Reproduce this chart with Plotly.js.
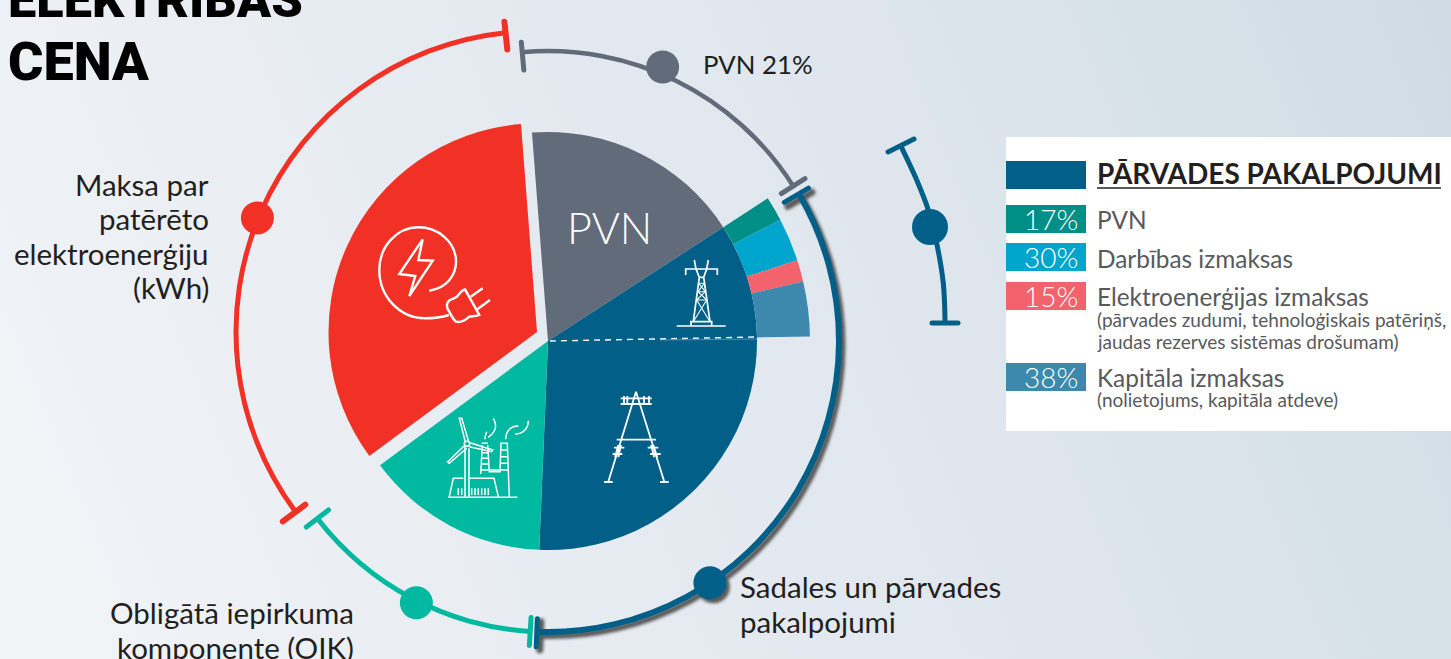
<!DOCTYPE html>
<html><head><meta charset="utf-8">
<script src="https://cdn.plot.ly/plotly-3.0.1.min.js"></script>
<style>
html,body{margin:0;padding:0;width:1451px;height:659px;overflow:hidden;
background:linear-gradient(68deg,#f2f5f8 0%,#e6ebf1 38%,#dde5ec 68%,#cfdce4 100%);}
#chart{width:1451px;height:659px;}
.js-line{stroke-linecap:round;}
g.polar{filter:blur(1.6px);}
</style></head><body><div id="chart"></div>
<script>
// ---- data ----
const sliceNames=['PVN','Sadales un pārvades pakalpojumi','OIK','Maksa par patērēto elektroenerģiju'];
const sliceShares=[17.06,34.83,14.19,33.92];
const sliceColors=['#626b7a','#015f88','#00b9a0','#f13125'];
const pieStart=-4.4;
const detailNames=['PVN','Darbības izmaksas','Elektroenerģijas izmaksas','Kapitāla izmaksas'];
const detailPct=[17,30,15,38];
const detailColors=['#008f86','#00a5cd','#f2636d','#3d89ae'];
const detailSpanDeg=32;
// brace arcs round the pie: start, end, radius, dot angle, dot radius
const arcStart=[-5.1,59.6,183.5,233.3];
const arcEnd=[57.7,182.2,232.4,354];
const arcRadius=[290,291,291,301];
const dotTheta=[22.7,146.2,206.7,292.2];
const dotRadius=[297,291,293,302];
const arcColors=['#626b7a','#015f88','#00b9a0','#f13125'];
// side bracket of the transmission share
const sideX=[902,916.7,928.3,936.7,943.3,945];
const sideY=[148.3,180,210,243.3,283.3,320];

// ---- angles ----
const W=1451,H=659;
let acc=pieStart;
const sliceFrom=sliceShares.map(s=>{const a=acc;acc+=s*3.6;return a;});
const sliceWidth=sliceShares.map(s=>s*3.6);
const sliceMid=sliceFrom.map((a,i)=>a+sliceWidth[i]/2);
let accD=sliceFrom[1];
const detailWidth=detailPct.map(p=>p*detailSpanDeg/100);
const detailMid=detailWidth.map(w=>{const m=accD+w/2;accD+=w;return m;});

function polarLayout(cx,cy,R){
  return {domain:{x:[(cx-R)/W,(cx+R)/W],y:[(H-cy-R)/H,(H-cy+R)/H]},
    bgcolor:'rgba(0,0,0,0)',barmode:'overlay',
    angularaxis:{rotation:90,direction:'clockwise',visible:false,showgrid:false},
    radialaxis:{visible:false,range:[0,R],showgrid:false}};
}
const traces=[];
function wedge(sp,theta,width,base,r,color){
  traces.push({type:'barpolar',subplot:sp,theta:theta,width:width,base:base,r:r,
    marker:{color:color,line:{width:0}},hoverinfo:'skip',showlegend:false});
}
function cap(sp,t,r,color,w){
  traces.push({type:'scatterpolar',subplot:sp,mode:'lines',theta:[t,t],r:[r-14,r+14],
    line:{color:color,width:w},hoverinfo:'skip',showlegend:false,cliponaxis:false});
}
function dot(sp,t,r,color,s){
  traces.push({type:'scatterpolar',subplot:sp,mode:'markers',theta:[t],r:[r],
    marker:{color:color,size:s,line:{width:0}},hoverinfo:'skip',showlegend:false,cliponaxis:false});
}
function arc(sp,i,color,th){
  const m=(arcStart[i]+arcEnd[i])/2,w=arcEnd[i]-arcStart[i];
  wedge(sp,[m],[w],[arcRadius[i]-th/2],[th],color);
}
// cartesian pixel canvas for the side bracket and annotations
traces.push({type:'scatter',x:sideX,y:sideY,mode:'lines',line:{color:'#015f88',width:5,shape:'spline'},hoverinfo:'skip',showlegend:false,cliponaxis:false});
traces.push({type:'scatter',x:[930],y:[227],mode:'markers',marker:{color:'#015f88',size:36},hoverinfo:'skip',showlegend:false});
traces.push({type:'scatter',x:[888,914],y:[152,139],mode:'lines',line:{color:'#015f88',width:5},hoverinfo:'skip',showlegend:false});
traces.push({type:'scatter',x:[932,958],y:[323,323],mode:'lines',line:{color:'#015f88',width:5},hoverinfo:'skip',showlegend:false});

// shadow of blue arc (subplot "polar" is blurred)
const SH='#5a5a5a';
arc('polar',1,SH,6); cap('polar',arcStart[1],288,SH,7); cap('polar',arcEnd[1],291,SH,7); dot('polar',dotTheta[1],dotRadius[1],SH,33);
// detached red slice
wedge('polar2',[sliceMid[3]],[sliceWidth[3]],[0],[208.5],sliceColors[3]);
arc('polar2',3,arcColors[3],5);
cap('polar2',arcStart[3],303,arcColors[3],6);
cap('polar2',arcEnd[3],298,arcColors[3],6);
dot('polar2',dotTheta[3],dotRadius[3],arcColors[3],33);
// main pie
[0,1,2].forEach(i=>wedge('polar3',[sliceMid[i]],[sliceWidth[i]],[0],[209],sliceColors[i]));
detailPct.forEach((p,i)=>wedge('polar3',[detailMid[i]],[detailWidth[i]],[209],[53],detailColors[i]));
// arcs
arc('polar3',0,arcColors[0],4.5);
cap('polar3',arcStart[0],286,arcColors[0],5);
cap('polar3',arcEnd[0],290,arcColors[0],5);
dot('polar3',dotTheta[0],dotRadius[0],arcColors[0],33);
arc('polar3',2,arcColors[2],5);
cap('polar3',arcStart[2],291,arcColors[2],5);
cap('polar3',arcEnd[2],291,arcColors[2],5);
dot('polar3',dotTheta[2],dotRadius[2],arcColors[2],33);
arc('polar3',1,arcColors[1],6);
cap('polar3',arcStart[1],288,arcColors[1],5);
cap('polar3',arcEnd[1],292,arcColors[1],5);
dot('polar3',dotTheta[1],dotRadius[1],arcColors[1],33);

// ---- icons as white line shapes; drawn in zoom coordinates ----
function P(ox,oy,str){
  return str.replace(/(-?[\d.]+),(-?[\d.]+)/g,(m,a,b)=>(+(a)/3+ox).toFixed(1)+','+(+(b)/3+oy).toFixed(1));
}
function ico(ox,oy,str,w,op){return {type:'path',xref:'x',yref:'y',layer:'above',path:P(ox,oy,str),line:{color:'#ffffff',width:w},opacity:op||1};}
const shapes=[
 // plug
 ico(350,200,'M238,272 C290,265 320,225 318,180 C315,125 265,82 205,82 C140,82 88,140 88,210 C88,290 150,355 225,355 C250,355 275,352 297,345',2.4),
 ico(350,200,'M218,118 L148,222 L196,228 L178,288 L248,182 L205,180 Z',2.4),
 ico(350,200,'M345,268 L388,345 C375,350 365,348 358,350 C345,362 330,368 318,365 C308,358 304,345 298,335 C288,322 288,308 300,300 C312,295 322,292 325,285 C332,275 338,270 345,268 Z',2.4),
 ico(350,200,'M362,290 L398,265 M382,328 L420,300',2.4),
 // power plant
 ico(420,380,'M135,195 L135,350 M147,205 L147,350 M136,185 L118,115 L125,115 L146,185 M132,198 L83,246 L88,250 L140,205 M150,188 L218,210 L215,215 L148,200',1.5),
 ico(420,380,'M133,191 C133,181 149,181 149,191 C149,201 133,201 133,191 Z',1.5),
 ico(420,380,'M88,350 L100,295 L130,295 M150,295 L222,295 L235,350 M85,352 L292,352',1.5),
 ico(420,380,'M115,325 L115,345 M125,325 L125,345 M155,325 L155,345 M165,325 L165,345 M175,325 L175,345 M185,325 L185,345 M195,325 L195,345 M205,325 L205,345',1.5),
 ico(420,380,'M185,190 L204,190 M187,195 L182,282 M203,195 L208,275 L240,275 L243,190 L262,190 L268,350 M187,218 L206,218 M185,235 L206,235 M184,252 L207,252 M182,270 L265,270 M242,210 L263,210 M241,230 L264,230 M240,250 L265,250',1.5),
 ico(420,380,'M195,178 C195,168 197,162 200,155 M205,172 C228,155 232,135 220,115 M257,178 C258,150 275,138 295,138 M285,162 C310,162 325,145 325,122',1.5),
 // big pylon
 ico(420,380,'M648,35 L565,305 M648,35 L733,305 M552,306 L578,306 M720,306 L746,306 M590,179 L708,179 M602,55 L695,55 M602,72 L695,72 M612,48 L612,75 M622,48 L622,75 M672,48 L672,75 M687,48 L687,75 M582,203 L613,203 M578,222 L607,222 M683,203 L715,203 M690,222 L722,222 M595,195 L585,232 M603,195 L595,232 M693,195 L703,232 M700,195 L712,232',1.8),
 // small pylon
 ico(660,250,'M50,228 L197,228 M93,228 L93,215 L155,215 L155,228 M77,75 L77,57 L172,57 L172,75 M103,30 L108,57 L118,82 L131,82 L140,57 L145,30 M100,215 L118,82 M150,215 L131,82',1.7),
 ico(660,250,'M116,100 L133,100 M114,125 L136,125 M110,150 L140,150 M116,100 L136,125 M133,100 L114,125 M114,125 L140,150 M136,125 L110,150 M110,150 L150,215 M140,150 L100,215',1.1),
 // dashed split of the dark slice
 {type:'line',xref:'x',yref:'y',layer:'above',x0:550,y0:341,x1:757,y1:337,line:{color:'#ffffff',width:1.4,dash:'6px,5px'}},
 {type:'line',xref:'x',yref:'y',layer:'above',x0:660,y0:340,x1:757,y1:339,line:{color:'rgba(255,255,255,0.3)',width:1}},
 // legend card
 {type:'rect',xref:'x',yref:'y',layer:'above',x0:1006,y0:137,x1:1451,y1:431,fillcolor:'#ffffff',line:{width:0}},
 {type:'rect',xref:'x',yref:'y',layer:'above',x0:1006,y0:161,x1:1086,y1:189,fillcolor:'#015f88',line:{width:0}},
 {type:'line',xref:'x',yref:'y',layer:'above',x0:1097,y0:188,x1:1441,y1:188,line:{color:'#231f20',width:1.5}}
];
const swatchTop=[205,243,282,363];
detailPct.forEach((p,i)=>shapes.push({type:'rect',xref:'x',yref:'y',layer:'above',x0:1006,y0:swatchTop[i],x1:1086,y1:swatchTop[i]+28,fillcolor:detailColors[i],line:{width:0}}));

// ---- text ----
const F='Lato, sans-serif';
function T(x,y,text,size,color,anchor,extra){
  const dx=anchor==='right'?2:(anchor==='center'?0:-2);
  return Object.assign({xref:'x',yref:'y',x:x+dx,y:y-1.5,text:text,showarrow:false,xanchor:anchor||'left',yanchor:'middle',align:anchor||'left',
    font:{family:F,size:size,color:color||'#231f20'}},extra||{});
}
const titleFont1={family:'Roboto, sans-serif',size:50.5,color:'#000',weight:900};
const titleFont2={family:'Roboto, sans-serif',size:54,color:'#000',weight:900};
const BS=29.5;
const annotations=[
 T(8,2.5,'ELEKTRĪBAS',50.5,'#000000','left',{font:titleFont1,yshift:2}),
 T(8,63,'CENA',54,'#000000','left',{font:titleFont2}),
 T(703,65,'PVN 21%',25.8),
 T(740,588,'Sadales un pārvades',BS),
 T(740,623,'pakalpojumi',BS),
 T(354,614,'Obligātā iepirkuma',BS,null,'right'),
 T(354,649,'komponente (OIK)',BS,null,'right'),
 T(209,186,'Maksa par',BS,null,'right'),
 T(209,220,'patērēto',BS,null,'right'),
 T(209,255,'elektroenerģiju',BS,null,'right'),
 T(209,289,'(kWh)',BS,null,'right'),
 T(609,229,'PVN',43,'#ffffff','center',{font:{family:F,size:43,color:'#ffffff',weight:300}}),
 T(1097,174,'PĀRVADES PAKALPOJUMI',28,'#231f20','left',{font:{family:F,size:28,color:'#231f20',weight:700}}),
 T(1097,220.5,detailNames[0],24.4,'#58595b'),
 T(1097,259.5,detailNames[1],24.4,'#58595b'),
 T(1097,297.5,detailNames[2],24.4,'#58595b'),
 T(1097,321,'(pārvades zudumi, tehnoloģiskais patēriņš,',19,'#58595b'),
 T(1097,342.5,'jaudas rezerves sistēmas drošumam)',19,'#58595b'),
 T(1097,378.5,detailNames[3],24.4,'#58595b'),
 T(1097,401,'(nolietojums, kapitāla atdeve)',19,'#58595b')
];
detailPct.forEach((p,i)=>annotations.push(T(1078,swatchTop[i]+15,p+'%',28,'#ffffff','right',{font:{family:F,size:28,color:'#ffffff',weight:300}})));

const layout={width:W,height:H,margin:{l:0,r:0,t:0,b:0,pad:0},
 paper_bgcolor:'rgba(0,0,0,0)',plot_bgcolor:'rgba(0,0,0,0)',showlegend:false,
 xaxis:{range:[0,W],visible:false,fixedrange:true},
 yaxis:{range:[H,0],visible:false,fixedrange:true},
 polar:polarLayout(551.5,345,314),
 polar2:polarLayout(537,332,326),
 polar3:polarLayout(548,341,318),
 shapes:shapes,annotations:annotations};
Plotly.newPlot('chart',traces,layout,{displayModeBar:false,staticPlot:true});
</script></body></html>
